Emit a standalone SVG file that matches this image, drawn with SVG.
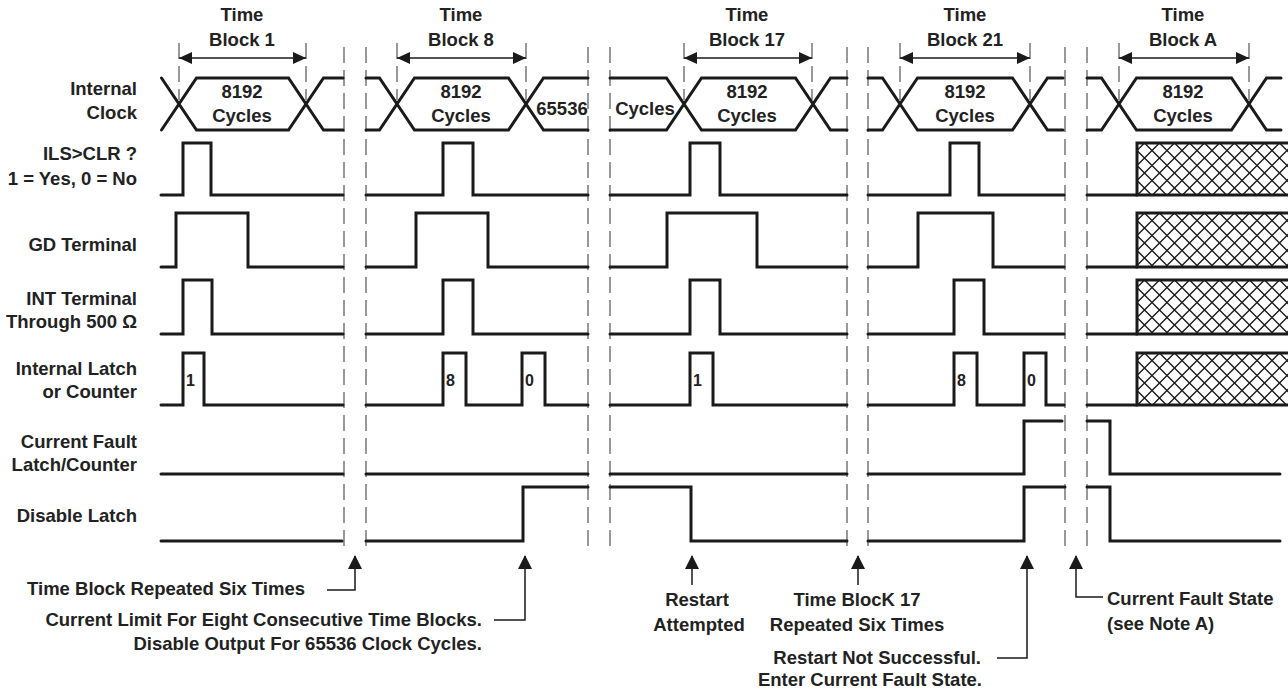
<svg xmlns="http://www.w3.org/2000/svg" width="1288" height="698" viewBox="0 0 1288 698">
<style>
text{font-family:"Liberation Sans",Arial,sans-serif;font-weight:bold;font-size:18.5px;fill:#222}
.lbl{text-anchor:end}
.mid{text-anchor:middle}
.num{font-size:16px}
.w{fill:none;stroke:#1a1a1a;stroke-width:3;stroke-linejoin:miter;stroke-linecap:round}
.dash{fill:none;stroke:#555;stroke-width:1.2;stroke-dasharray:16 7}
.dim{fill:none;stroke:#1a1a1a;stroke-width:1.5}
.ann{fill:none;stroke:#1a1a1a;stroke-width:1.5}
</style>
<defs>
<marker id="ah" viewBox="0 0 13 12" refX="13" refY="6" markerWidth="13" markerHeight="12" markerUnits="userSpaceOnUse" orient="auto-start-reverse"><path d="M0,0 L13,6 L0,12 z" fill="#1a1a1a"/></marker>
<marker id="up" viewBox="0 0 14 14" refX="13" refY="7" markerWidth="14" markerHeight="14" markerUnits="userSpaceOnUse" orient="auto"><path d="M0,0 L14,7 L0,14 z" fill="#1a1a1a"/></marker>
<pattern id="hatch" patternUnits="userSpaceOnUse" x="0" y="0" width="15" height="15"><path d="M0,7.5 L7.5,0 L15,7.5 L7.5,15 Z" fill="none" stroke="#1a1a1a" stroke-width="1.4"/></pattern>
</defs>

<g id="section-breaks">
<path class="dash" d="M344,47 V548 M366,47 V548 M588,47 V548 M610,47 V548 M847,47 V548 M868,47 V548 M1065,47 V548 M1087,47 V548"/>
</g>

<g id="time-blocks">
<g id="tb1"><text class="mid" x="242" y="21">Time</text><text class="mid" x="242" y="46">Block 1</text>
<path class="dash" d="M179,43 V100 M306,43 V100"/><path class="dim" d="M179,58 H306" marker-start="url(#ah)" marker-end="url(#ah)"/></g>
<g id="tb8"><text class="mid" x="461" y="21">Time</text><text class="mid" x="461" y="46">Block 8</text>
<path class="dash" d="M397,43 V100 M526,43 V100"/><path class="dim" d="M397,58 H526" marker-start="url(#ah)" marker-end="url(#ah)"/></g>
<g id="tb17"><text class="mid" x="747" y="21">Time</text><text class="mid" x="747" y="46">Block 17</text>
<path class="dash" d="M684,43 V100 M812,43 V100"/><path class="dim" d="M684,58 H812" marker-start="url(#ah)" marker-end="url(#ah)"/></g>
<g id="tb21"><text class="mid" x="965" y="21">Time</text><text class="mid" x="965" y="46">Block 21</text>
<path class="dash" d="M900,43 V100 M1030,43 V100"/><path class="dim" d="M900,58 H1030" marker-start="url(#ah)" marker-end="url(#ah)"/></g>
<g id="tbA"><text class="mid" x="1183" y="21">Time</text><text class="mid" x="1183" y="46">Block A</text>
<path class="dash" d="M1119,43 V100 M1249,43 V100"/><path class="dim" d="M1119,58 H1249" marker-start="url(#ah)" marker-end="url(#ah)"/></g>
</g>

<g id="labels">
<text class="lbl" x="137" y="95">Internal</text><text class="lbl" x="137" y="119">Clock</text>
<text class="lbl" x="137" y="160">ILS&gt;CLR ?</text><text class="lbl" x="137" y="185">1 = Yes, 0 = No</text>
<text class="lbl" x="137" y="251">GD Terminal</text>
<text class="lbl" x="137" y="305">INT Terminal</text><text class="lbl" x="137" y="328">Through 500 Ω</text>
<text class="lbl" x="137" y="375">Internal Latch</text><text class="lbl" x="137" y="398">or Counter</text>
<text class="lbl" x="137" y="448">Current Fault</text><text class="lbl" x="137" y="471">Latch/Counter</text>
<text class="lbl" x="137" y="522">Disable Latch</text>
</g>

<g id="internal-clock">
<path class="w" d="M161.5,78 L196.5,130 H288.5 L323.5,78 H343 M161.5,130 L196.5,78 H288.5 L323.5,130 H343"/>
<path class="w" d="M366,78 H379.5 L414.5,130 H508.5 L543.5,78 H588 M366,130 H379.5 L414.5,78 H508.5 L543.5,130 H588"/>
<path class="w" d="M610,78 H666.5 L701.5,130 H795.5 L830.5,78 H847 M610,130 H666.5 L701.5,78 H795.5 L830.5,130 H847"/>
<path class="w" d="M868,78 H882.5 L917.5,130 H1012.5 L1047.5,78 H1063 M868,130 H882.5 L917.5,78 H1012.5 L1047.5,130 H1063"/>
<path class="w" d="M1087,78 H1101.5 L1136.5,130 H1231.5 L1266.5,78 H1281 M1087,130 H1101.5 L1136.5,78 H1231.5 L1266.5,130 H1281"/>
<text class="mid" x="242" y="98">8192</text><text class="mid" x="242" y="122">Cycles</text>
<text class="mid" x="461" y="98">8192</text><text class="mid" x="461" y="122">Cycles</text>
<text class="mid" x="562" y="115">65536</text>
<text class="mid" x="645" y="115">Cycles</text>
<text class="mid" x="747" y="98">8192</text><text class="mid" x="747" y="122">Cycles</text>
<text class="mid" x="965" y="98">8192</text><text class="mid" x="965" y="122">Cycles</text>
<text class="mid" x="1183" y="98">8192</text><text class="mid" x="1183" y="122">Cycles</text>
</g>

<g id="ils-clr">
<path class="w" d="M161,195 H183 V143 H211 V195 H343"/>
<path class="w" d="M366,195 H443 V143 H473 V195 H588"/>
<path class="w" d="M610,195 H690 V143 H720 V195 H847"/>
<path class="w" d="M868,195 H950 V143 H979 V195 H1064"/>
<path class="w" d="M1087,195 H1137"/>
<g transform="translate(1137,143)"><rect x="0" y="0" width="151" height="52" fill="url(#hatch)"/><path class="w" d="M155,0 H0 V52 H155"/></g>
</g>

<g id="gd-terminal">
<path class="w" d="M161,267 H176 V213 H248 V267 H343"/>
<path class="w" d="M366,267 H416 V213 H488 V267 H588"/>
<path class="w" d="M610,267 H667 V213 H757 V267 H847"/>
<path class="w" d="M868,267 H918 V213 H993 V267 H1064"/>
<path class="w" d="M1087,267 H1137"/>
<g transform="translate(1137,213)"><rect x="0" y="0" width="151" height="54" fill="url(#hatch)"/><path class="w" d="M155,0 H0 V54 H155"/></g>
</g>

<g id="int-terminal">
<path class="w" d="M161,334 H183 V280 H212 V334 H343"/>
<path class="w" d="M366,334 H443 V280 H473 V334 H588"/>
<path class="w" d="M610,334 H690 V280 H720 V334 H847"/>
<path class="w" d="M868,334 H954 V280 H984 V334 H1064"/>
<path class="w" d="M1087,334 H1137"/>
<g transform="translate(1137,280)"><rect x="0" y="0" width="151" height="54" fill="url(#hatch)"/><path class="w" d="M155,0 H0 V54 H155"/></g>
</g>

<g id="internal-latch">
<path class="w" d="M161,405 H183 V353 H204 V405 H343"/>
<path class="w" d="M366,405 H443 V353 H466 V405 H522 V353 H545 V405 H588"/>
<path class="w" d="M610,405 H690 V353 H713 V405 H847"/>
<path class="w" d="M868,405 H954 V353 H977 V405 H1024 V353 H1046 V405 H1064"/>
<path class="w" d="M1087,405 H1137"/>
<g transform="translate(1137,353)"><rect x="0" y="0" width="151" height="52" fill="url(#hatch)"/><path class="w" d="M155,0 H0 V52 H155"/></g>
<text class="num" x="186" y="386">1</text>
<text class="num" x="446" y="386">8</text>
<text class="num" x="525" y="386">0</text>
<text class="num" x="693" y="386">1</text>
<text class="num" x="957" y="386">8</text>
<text class="num" x="1027" y="386">0</text>
</g>

<g id="current-fault-latch">
<path class="w" d="M161,474 H343 M366,474 H588 M610,474 H847"/>
<path class="w" d="M868,474 H1024 V421 H1062"/>
<path class="w" d="M1087,421 H1110 V474 H1280"/>
</g>

<g id="disable-latch">
<path class="w" d="M161,541 H342"/>
<path class="w" d="M366,541 H523 V487 H588"/>
<path class="w" d="M610,487 H691 V541 H847"/>
<path class="w" d="M868,541 H1024 V487 H1065"/>
<path class="w" d="M1087,487 H1110 V541 H1280"/>
</g>

<g id="connectors">
<path class="ann" d="M327,590 H355 V556" marker-end="url(#up)"/>
<path class="ann" d="M494,620 H525 V556" marker-end="url(#up)"/>
<path class="ann" d="M692,585 V556" marker-end="url(#up)"/>
<path class="ann" d="M858,585 V556" marker-end="url(#up)"/>
<path class="ann" d="M997,658 H1027 V556" marker-end="url(#up)"/>
<path class="ann" d="M1103,597 H1076 V556" marker-end="url(#up)"/>
</g>

<g id="annotations">
<text class="lbl" x="305" y="595">Time Block Repeated Six Times</text>
<text class="lbl" x="482" y="626">Current Limit For Eight Consecutive Time Blocks.</text>
<text class="lbl" x="482" y="650">Disable Output For 65536 Clock Cycles.</text>
<text class="mid" x="697" y="606">Restart</text>
<text class="mid" x="699" y="631">Attempted</text>
<text class="mid" x="857" y="606">Time BlocK 17</text>
<text class="mid" x="857" y="631">Repeated Six Times</text>
<text class="lbl" x="981" y="664">Restart Not Successful.</text>
<text class="lbl" x="982" y="686">Enter Current Fault State.</text>
<text x="1107" y="605">Current Fault State</text>
<text x="1107" y="630">(see Note A)</text>
</g>
</svg>
